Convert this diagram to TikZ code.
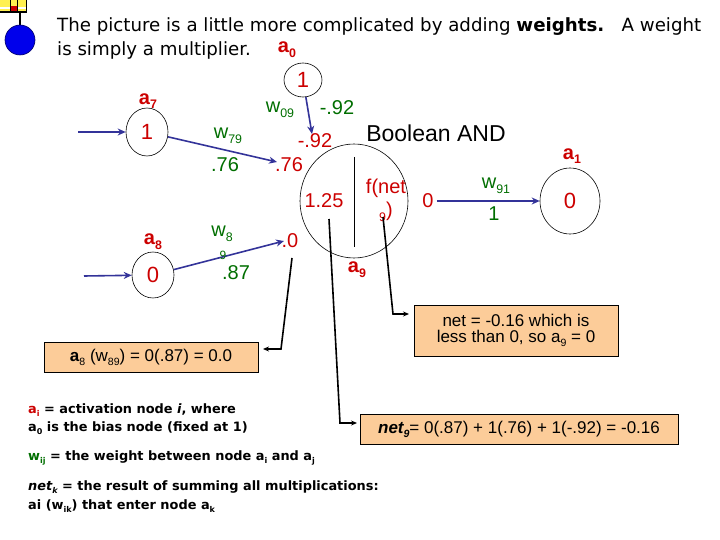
\documentclass[tikz,border=0pt]{standalone}
\usepackage{fontspec}
\setmainfont{Liberation Sans}
\newfontfamily\comic{DejaVu Sans}
\usetikzlibrary{arrows.meta,shapes.geometric}
\definecolor{nred}{RGB}{204,0,0}
\definecolor{ngreen}{RGB}{0,110,0}
\definecolor{nblue}{RGB}{51,51,153}
\definecolor{peach}{RGB}{252,204,153}
\definecolor{logoyel}{RGB}{255,240,80}
\definecolor{logoblue}{RGB}{0,0,235}
\newcommand\lowsub[1]{\raisebox{-0.45ex}{\scalebox{0.62}{#1}}}
\newcommand\fs[1]{\fontsize{#1}{#1}\selectfont}
\begin{document}
\begin{tikzpicture}[x=1pt,y=-1pt,
  unit/.style={ellipse,draw,line width=0.6pt,inner sep=0pt,text=nred,font=\fs{22}},
  lab/.style={text=nred,font=\fs{20}\bfseries,inner sep=0pt},
  num/.style={text=nred,font=\fs{20},inner sep=0pt},
  wt/.style={text=ngreen,font=\fs{20},inner sep=0pt},
  inarrow/.style={draw=nblue,line width=1.6pt,-{Stealth[length=8pt,width=7pt]}},
  callout/.style={draw=black,line width=1.6pt,-{Stealth[length=6pt,width=5pt]}},
  note/.style={draw=black,fill=peach,line width=0.8pt,inner sep=0pt,font=\fs{17},align=center},
  legend/.style={anchor=west,inner sep=0pt,font=\comic\bfseries\fs{12.9}}
]
\useasboundingbox (0,0) rectangle (720,540);
% logo
\fill[logoyel] (0,0) rectangle (26,12);
\fill[white] (0,7) rectangle (26,9);
\fill[nred] (11,6) rectangle (17,12);
\draw[line width=1.2pt] (0,12) -- (27,12) (26.5,0) -- (26.5,12) (17.5,0) -- (17.5,12) (10.5,0) -- (10.5,12);
\draw[line width=1.6pt] (20,12) -- (20,26);
\fill[logoblue] (20,40) circle (15);
\draw[blue!40!black,line width=0.6pt] (20,40) circle (15);
% title
\node[anchor=west,inner sep=0pt,font=\comic\fs{18.2}] (t1) at (57,27) {The picture is a little more complicated by adding \textbf{weights.}\ \ \ A weight};
\node[anchor=west,inner sep=0pt,font=\comic\fs{18.2}] (t2) at (57,50) {is simply a multiplier.};
% units
\node[unit,minimum width=38,minimum height=34] (a0) at (303,80) {1};
\node[unit,minimum width=42,minimum height=48] (a7) at (147,132) {1};
\node[unit,minimum width=42,minimum height=46] (a8) at (153,275) {0};
\node[unit,minimum width=108,minimum height=114] (a9) at (354,201) {};
\node[unit,minimum width=60,minimum height=66] (a1) at (570,201) {0};
\node[lab] (la0) at (287,50) {a\lowsub{0}};
\node[lab] (la7) at (148,101) {a\lowsub{7}};
\node[lab] (la8) at (153,242) {a\lowsub{8}};
\node[lab] (la9) at (357,270) {a\lowsub{9}};
\node[lab] (la1) at (572,156) {a\lowsub{1}};
% inside a9
\draw[line width=0.6pt] (354,157) -- (354,247);
\node[num] (n125) at (324,201) {1.25};
\node[num] (fnet) at (386,188) {f(net};
\node[num] (fnet2) at (386,212) {\lowsub{9})};
% inputs
\coordinate (i7) at (78,132);
\coordinate (i8) at (84,276);
\draw[inarrow] (i7) -- (a7);
\draw[inarrow] (i8) -- (a8);
\coordinate (t0) at (312,134);
\coordinate (t7) at (277,162);
\coordinate (t8) at (284,241);
\draw[inarrow] (a0) -- (t0);
\draw[inarrow] (a7) -- (t7);
\draw[inarrow] (a8) -- (t8);
% weights and products
\node[wt] (w09) at (280,110) {w\lowsub{09}};
\node[wt] (v09) at (337,108) {-.92};
\node[num] (p09) at (315,141) {-.92};
\node[wt] (w79) at (228,136) {w\lowsub{79}};
\node[wt] (v79) at (225,165) {.76};
\node[num] (p79) at (289,165) {.76};
\node[wt] (w89) at (222,234) {w\lowsub{8}};
\node[wt,font=\fs{12}] (w89b) at (223,255) {9};
\node[wt] (v89) at (236,273) {.87};
\node[num] (p89) at (290,241) {.0};
\node[inner sep=0pt,font=\fs{23}] (bool) at (436,133) {Boolean AND};
\node[num] (o9) at (428,201) {0};
\node[wt] (w91) at (496,186) {w\lowsub{91}};
\node[wt] (v91) at (494,214) {1};
\draw[inarrow,shorten <=3pt] (o9) -- (a1);
% notes
\node[note,minimum width=214,minimum height=30] (boxA) at (151,357) {\textbf{a}\lowsub{8} (w\lowsub{89}) = 0(.87) = 0.0};
\node[note,minimum width=204,minimum height=51] (boxB) at (516,330.5) {net = -0.16 which is\\[-1pt]less than 0, so a\lowsub{9} = 0};
\node[note,minimum width=318,minimum height=30] (boxC) at (519,429) {\textbf{\itshape net\lowsub{9}}= 0(.87) + 1(.76) + 1(-.92) = -0.16};
% callouts
\coordinate (c1s) at (292,258); \coordinate (c1m) at (281,349); \coordinate (c1e) at (263,349);
\draw[callout] (c1s) -- (c1m) -- (c1e);
\coordinate (c2s) at (329,219); \coordinate (c2m) at (340,423); \coordinate (c2e) at (357,423);
\draw[callout] (c2s) -- (c2m) -- (c2e);
\coordinate (c3s) at (383,217); \coordinate (c3m) at (393,314); \coordinate (c3e) at (409,314);
\draw[callout] (c3s) -- (c3m) -- (c3e);
% legend
\node[legend] (g1) at (28,410) {\textcolor{nred}{a\lowsub{i}} = activation node \textit{i}, where};
\node[legend] (g2) at (28,428) {a\lowsub{0} is the bias node (fixed at 1)};
\node[legend] (g3) at (28,458) {\textcolor{ngreen}{w\lowsub{ij}} = the weight between node a\lowsub{i} and a\lowsub{j}};
\node[legend] (g4) at (28,487) {\textit{net\lowsub{k}} = the result of summing all multiplications:};
\node[legend] (g5) at (28,506) {ai (w\lowsub{ik}) that enter node a\lowsub{k}};
\end{tikzpicture}
\end{document}
